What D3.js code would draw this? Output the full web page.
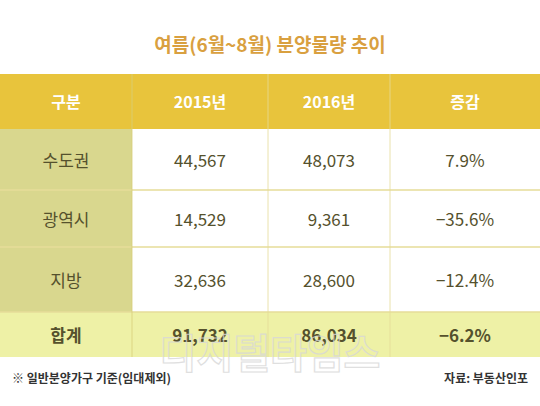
<!DOCTYPE html><html><head><meta charset="utf-8"><script src="https://cdn.jsdelivr.net/npm/d3@7"></script>
<style>body{margin:0;background:#fff}</style></head><body><svg id="c" width="540" height="406"></svg>
<script>
const title="여름(6월~8월) 분양물량 추이";
const headers=["구분","2015년","2016년","증감"];
const regions=["수도권","광역시","지방","합계"];
const v2015=[44567,14529,32636,91732];
const v2016=[48073,9361,28600,86034];
const change=[7.9,-35.6,-12.4,-6.2];
const note="※ 일반분양가구 기준(임대제외)";
const source="자료: 부동산인포";
const svg=d3.select("#c");
const F="'Noto Sans CJK KR',sans-serif";
const colX=[0,132,268,390,540];
const rowY=[74,129,190,247,312,357];
const fmt=d3.format(",");
svg.append("text").attr("x",270).attr("y",52).attr("text-anchor","middle").attr("font-family",F).attr("font-weight","bold").attr("font-size",19).attr("fill","#d9a040").text(title);
svg.append("rect").attr("x",0).attr("y",rowY[0]).attr("width",540).attr("height",rowY[1]-rowY[0]).attr("fill","#e8c43c");
headers.forEach((h,i)=>svg.append("text").attr("x",(colX[i]+colX[i+1])/2).attr("y",(rowY[0]+rowY[1])/2+6).attr("text-anchor","middle").attr("font-family",F).attr("font-weight","bold").attr("font-size",16).attr("fill","#fff").text(h));
regions.forEach((r,j)=>{
 const y0=rowY[j+1],y1=rowY[j+2],tot=j===3;
 svg.append("rect").attr("x",0).attr("y",y0).attr("width",540).attr("height",y1-y0).attr("fill",tot?"#eef1a6":"#fff");
 svg.append("rect").attr("x",0).attr("y",y0).attr("width",colX[1]).attr("height",y1-y0).attr("fill",tot?"#eef1a6":"#d9d78e");
 const cells=[r,fmt(v2015[j]),fmt(v2016[j]),(change[j]<0?"−":"")+Math.abs(change[j]).toFixed(1)+"%"];
 cells.forEach((t,i)=>svg.append("text").attr("x",(colX[i]+colX[i+1])/2).attr("y",(y0+y1)/2+7).attr("text-anchor","middle").attr("font-family",F).attr("font-weight",tot?"bold":"normal").attr("font-size",17).attr("fill","#55512d").text(t));
});
// grid lines
for(let j=2;j<rowY.length-1;j++) svg.append("line").attr("x1",0).attr("x2",540).attr("y1",rowY[j]).attr("y2",rowY[j]).attr("stroke","#e6dc98").attr("stroke-width",1.5);
[1,2,3].forEach(i=>svg.append("line").attr("x1",colX[i]).attr("x2",colX[i]).attr("y1",rowY[0]).attr("y2",rowY[5]).attr("stroke",i===1?"#d8cf7a":"#e6dc98").attr("stroke-width",1).attr("opacity",0.8));
svg.append("text").attr("x",270).attr("y",368).attr("text-anchor","middle").attr("font-family",F).attr("font-weight","bold").attr("font-size",40).attr("fill","none").attr("stroke","#d8d8d8").attr("stroke-width",1.2).attr("opacity",0.8).text("디지털타임스");
svg.append("text").attr("x",12).attr("y",383).attr("font-family",F).attr("font-weight","bold").attr("font-size",12).attr("fill","#333").text(note);
svg.append("text").attr("x",528).attr("y",383).attr("text-anchor","end").attr("font-family",F).attr("font-weight","bold").attr("font-size",12).attr("fill","#333").text(source);
</script></body></html>
